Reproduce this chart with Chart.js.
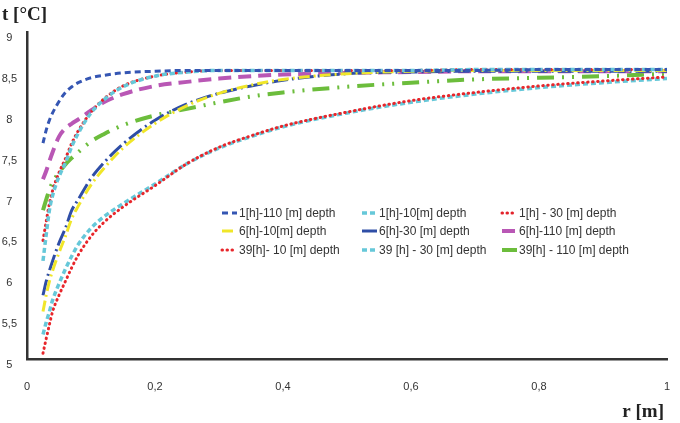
<!DOCTYPE html>
<html>
<head>
<meta charset="utf-8">
<script src="https://cdn.jsdelivr.net/npm/chart.js@4/dist/chart.umd.min.js"></script>
<style>
  html, body { margin: 0; padding: 0; background: #fff; }
  #wrap { width: 680px; height: 423px; }
</style>
</head>
<body>
<div id="wrap"><canvas id="chart" width="680" height="423"></canvas></div>
<script>
// radius r [m] - common grid for all curves
const rValues = [0.025, 0.03, 0.035, 0.04, 0.05, 0.06, 0.07, 0.08, 0.1, 0.12, 0.15, 0.2, 0.25, 0.3, 0.35, 0.4, 0.5, 0.6, 0.7, 0.8, 0.9, 1.0];

// temperature t [°C]
const h1_110 = [7.64, 7.80, 7.92, 8.01, 8.15, 8.26, 8.33, 8.38, 8.44, 8.47, 8.50, 8.52, 8.53, 8.53, 8.53, 8.53, 8.53, 8.53, 8.53, 8.54, 8.54, 8.54];
const h1_10  = [6.20, 6.52, 6.82, 7.00, 7.23, 7.40, 7.60, 7.76, 8.01, 8.17, 8.33, 8.46, 8.51, 8.53, 8.53, 8.53, 8.53, 8.53, 8.54, 8.54, 8.54, 8.54];
const h1_30  = [6.45, 6.68, 6.90, 7.06, 7.28, 7.45, 7.64, 7.79, 8.02, 8.18, 8.34, 8.46, 8.51, 8.53, 8.53, 8.53, 8.53, 8.53, 8.54, 8.54, 8.54, 8.54];
const h6_10  = [5.58, 5.78, 5.95, 6.08, 6.30, 6.50, 6.72, 6.87, 7.13, 7.33, 7.58, 7.88, 8.10, 8.25, 8.35, 8.42, 8.49, 8.52, 8.53, 8.53, 8.53, 8.53];
const h6_30  = [5.78, 5.95, 6.08, 6.20, 6.42, 6.60, 6.82, 6.95, 7.21, 7.40, 7.63, 7.92, 8.12, 8.25, 8.34, 8.41, 8.49, 8.51, 8.52, 8.52, 8.52, 8.52];
const h6_110 = [7.20, 7.30, 7.42, 7.53, 7.72, 7.82, 7.88, 7.93, 8.04, 8.14, 8.24, 8.34, 8.39, 8.43, 8.46, 8.48, 8.50, 8.51, 8.52, 8.52, 8.52, 8.52];
const h39_10 = [5.07, 5.25, 5.42, 5.58, 5.78, 5.95, 6.12, 6.27, 6.50, 6.67, 6.86, 7.12, 7.39, 7.59, 7.73, 7.85, 8.02, 8.16, 8.26, 8.34, 8.40, 8.45];
const h39_30 = [5.30, 5.45, 5.58, 5.72, 5.92, 6.10, 6.26, 6.40, 6.60, 6.74, 6.90, 7.14, 7.39, 7.58, 7.72, 7.84, 8.01, 8.14, 8.24, 8.32, 8.38, 8.43];
const h39_110 = [6.82, 6.95, 7.07, 7.16, 7.28, 7.38, 7.46, 7.53, 7.66, 7.75, 7.86, 7.98, 8.06, 8.14, 8.21, 8.26, 8.33, 8.38, 8.42, 8.44, 8.46, 8.49];

const seriesLabels = [
    '1[h]-110 [m] depth', '1[h]-10[m] depth', '1[h] - 30 [m] depth',
    '6[h]-10[m] depth', '6[h]-30 [m] depth', '6[h]-110 [m] depth',
    '39[h]- 10 [m] depth', '39 [h] - 30 [m] depth', '39[h] - 110 [m] depth'
];
const seriesValues = [h1_110, h1_10, h1_30, h6_10, h6_30, h6_110, h39_10, h39_30, h39_110];

const xTicks = [0, 0.2, 0.4, 0.6, 0.8, 1];
const yTicks = [5, 5.5, 6, 6.5, 7, 7.5, 8, 8.5, 9];

// line looks, same order as the series
const styles = [
    { color: '#3556b3', width: 3, dash: [6, 4], cap: 'butt' },
    { color: '#66c8d9', width: 3.5, dash: [5, 3], cap: 'butt' },
    { color: '#e3232b', width: 3, dash: [0.5, 4.5], cap: 'round' },
    { color: '#f0e629', width: 3, dash: [11, 4, 2, 4], cap: 'butt' },
    { color: '#2f4ea6', width: 3, dash: [16, 4, 2, 4], cap: 'butt' },
    { color: '#b957b5', width: 4, dash: [13, 7], cap: 'butt' },
    { color: '#e8262b', width: 3, dash: [0.5, 4.5], cap: 'round' },
    { color: '#66c8d9', width: 3.5, dash: [5, 3], cap: 'butt' },
    { color: '#6cbd3c', width: 4, dash: [17, 8, 2, 8, 2, 8], cap: 'butt' }
];

const datasets = seriesValues.map((vals, i) => ({
    label: seriesLabels[i],
    data: rValues.map((r, j) => ({ x: r, y: vals[j] })),
    borderColor: styles[i].color,
    backgroundColor: styles[i].color,
    borderWidth: styles[i].width,
    borderDash: styles[i].dash,
    borderCapStyle: styles[i].cap,
    pointRadius: 0,
    fill: false,
    cubicInterpolationMode: 'monotone'
}));

function comma(v) {
    return (Math.round(v * 10) / 10).toString().replace('.', ',');
}

// legend in a 3x3 grid inside the plot
const gridLegend = {
    id: 'gridLegend',
    afterDraw(chart) {
        const ctx = chart.ctx;
        const colX = [222, 362, 502];
        const rowY = [213, 231, 250];
        ctx.save();
        ctx.font = '12px "Liberation Sans Narrow", "Liberation Sans", sans-serif';
        ctx.textBaseline = 'middle';
        chart.data.datasets.forEach((ds, i) => {
            const x = colX[i % 3];
            const y = rowY[Math.floor(i / 3)];
            ctx.beginPath();
            ctx.strokeStyle = ds.borderColor;
            ctx.lineWidth = ds.borderWidth;
            ctx.lineCap = ds.borderCapStyle;
            ctx.setLineDash(ds.borderDash);
            ctx.moveTo(x, y);
            ctx.lineTo(x + 15, y);
            ctx.stroke();
            ctx.setLineDash([]);
            ctx.fillStyle = '#333';
            ctx.fillText(ds.label, x + 17, y + 1);
        });
        ctx.restore();
    }
};

// axis names drawn as plain text
const axisNames = {
    id: 'axisNames',
    afterDraw(chart) {
        const ctx = chart.ctx;
        ctx.save();
        ctx.fillStyle = '#222';
        ctx.font = 'bold 19px "Liberation Serif", serif';
        ctx.textBaseline = 'alphabetic';
        ctx.textAlign = 'left';
        ctx.fillText('t [°C]', 2, 20);
        ctx.textAlign = 'right';
        ctx.fillText('r [m]', 664, 417);
        ctx.restore();
    }
};

const tickFont = { family: '"Liberation Sans Narrow", "Liberation Sans", sans-serif', size: 11 };

new Chart(document.getElementById('chart').getContext('2d'), {
    type: 'line',
    data: { datasets: datasets },
    options: {
        responsive: false,
        animation: false,
        layout: { padding: { top: 32, right: 13, left: 0, bottom: 0 } },
        plugins: {
            legend: { display: false },
            tooltip: { enabled: false }
        },
        scales: {
            x: {
                type: 'linear',
                min: 0,
                max: 1,
                afterFit: s => { s.height = 64; s.paddingLeft = 0; s.paddingRight = 0; },
                afterBuildTicks: s => { s.ticks = xTicks.map(v => ({ value: v })); },
                grid: { display: false, drawTicks: false },
                border: { display: true, color: '#333', width: 2.5 },
                ticks: { callback: v => comma(v), font: tickFont, color: '#333', padding: 21, maxRotation: 0 }
            },
            y: {
                type: 'linear',
                min: 5,
                max: 9,
                afterFit: s => { s.width = 27; },
                afterBuildTicks: s => { s.ticks = yTicks.map(v => ({ value: v })); },
                grid: { display: false, drawTicks: false },
                border: { display: true, color: '#333', width: 2.5 },
                ticks: { callback: v => comma(v), font: tickFont, color: '#333', padding: 10, crossAlign: 'center', labelOffset: 6 }
            }
        }
    },
    plugins: [gridLegend, axisNames]
});
</script>
</body>
</html>
